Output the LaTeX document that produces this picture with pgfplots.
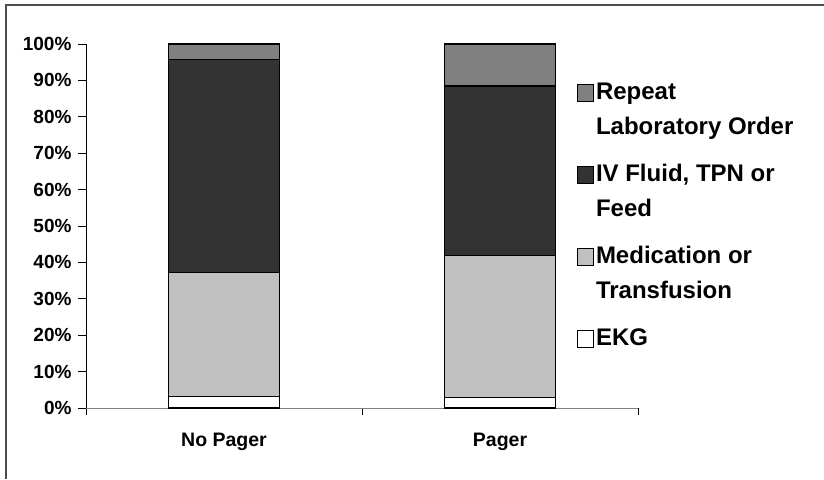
\documentclass[border=0pt]{standalone}
\usepackage{pgfplots}
\pgfplotsset{compat=1.18}
\usepackage{fontspec}
\setmainfont{Liberation Sans}

\definecolor{repeatc}{HTML}{808080}
\definecolor{ivc}{HTML}{333333}
\definecolor{medc}{HTML}{C0C0C0}

\newcommand{\twolines}[2]{\vtop{\hbox{\strut #1}\hbox{\strut #2}}}

\begin{document}
\begin{tikzpicture}[x=1pt,y=1pt]
\useasboundingbox (0,0) rectangle (824,479);
\draw[black!70, line width=1.6pt] (6,0) -- (6,474) -- (824,474);
\begin{axis}[
    at={(86pt,71pt)}, anchor=south west,
    scale only axis,
    width=552pt, height=364pt,
    ybar stacked,
    bar width=111pt,
    xmin=-0.5, xmax=1.5,
    ymin=0, ymax=100,
    axis x line*=bottom,
    axis y line*=left,
    x axis line style={draw=black!50, line width=1pt},
    y axis line style={draw=black, line width=0.8pt},
    xtick={0,1},
    xticklabels={No Pager, Pager},
    major x tick style={draw=none},
    minor xtick={-0.5,0.5,1.5},
    minor x tick style={draw=black, line width=0.8pt},
    minor tick length=7pt,
    ytick={0,10,...,100},
    yticklabel={\pgfmathprintnumber{\tick}\%},
    y tick style={draw=black, line width=0.8pt},
    major tick length=8pt,
    tick align=outside,
    /pgf/number format/assume math mode=true,
    xticklabel style={font=\fontsize{19.5}{22}\selectfont\bfseries, yshift=-14pt},
    yticklabel style={font=\fontsize{19}{22}\selectfont\bfseries, xshift=-3pt},
    every axis plot/.append style={draw=black, line width=1.4pt},
    legend image code/.code={\draw[#1, line width=0.8pt] (0pt,-2pt) rectangle (16pt,15pt);},
    legend style={
        at={(491pt,335pt)}, anchor=north west,
        draw=none, fill=none,
        font=\fontsize{24}{35}\selectfont\bfseries,
        row sep=52pt, inner sep=0pt,
        cells={anchor=base west},
        /tikz/every even column/.append style={column sep=6pt},
    },
    reverse legend,
]
\addplot[fill=white] coordinates {(0,3.1) (1,2.9)};
\addplot[fill=medc] coordinates {(0,34.2) (1,39.0)};
\addplot[fill=ivc] coordinates {(0,58.4) (1,46.6)};
\addplot[fill=repeatc] coordinates {(0,4.3) (1,11.5)};
\legend{\strut EKG, \twolines{Medication or}{Transfusion}, \twolines{IV Fluid, TPN or}{Feed}, \twolines{Repeat}{Laboratory Order}}
\end{axis}
\end{tikzpicture}
\end{document}
